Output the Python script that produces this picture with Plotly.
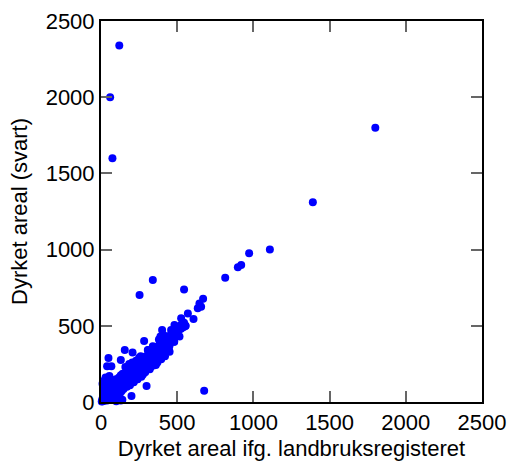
import plotly.graph_objects as go

# Dyrket areal ifg. landbruksregisteret (x) vs Dyrket areal (svart) (y)
x_reg = [5, 8, 10, 12, 15, 18, 20, 22, 25, 28, 30, 32, 35, 38, 40, 42, 45, 48, 50, 52,
         55, 58, 60, 62, 65, 68, 70, 72, 75, 78, 80, 82, 85, 88, 90, 92, 95, 98, 100, 102,
         105, 108, 110, 112, 115, 118, 120, 122, 125, 128, 130, 132, 135, 138, 140, 142, 145, 148, 150,
         10, 20, 30, 15, 25, 100, 130, 140,
         155, 160, 165, 170, 175, 180, 185, 190, 195, 200, 205, 210, 215, 220, 225, 230, 235, 240,
         245, 250, 255, 260, 265, 270, 275, 280, 285, 290, 295, 300, 305, 310, 315, 320, 325, 330,
         335, 340, 345, 350, 355, 360, 365, 370, 375, 380, 385, 390, 395, 400, 405, 410, 415, 420,
         425, 430, 435, 440, 445, 450, 455, 460, 465, 470, 475, 480, 485, 490, 495, 500, 505, 510,
         515, 520, 525, 530, 540, 545, 555,
         170, 190, 215, 240, 265, 290, 320, 345, 370, 395, 420, 450, 180, 230, 260, 310, 350, 380,
         205, 250, 275, 330, 360, 390, 430, 470, 235, 285, 340, 375, 410, 445, 160, 185,
         156, 207, 283, 360, 299, 200, 677, 480, 401, 438, 417, 482, 460, 554, 526, 570, 607,
         340, 253, 545, 635, 657, 646, 670, 815, 898, 920, 972, 1108, 1390, 1800,
         120, 60, 75, 49, 40, 68, 55, 130, 307, 417, 395]
y_svart = [3, 15, 5, 30, 10, 50, 20, 8, 35, 60, 15, 45, 25, 80, 10, 55, 35, 100, 20, 70,
           45, 120, 30, 85, 55, 140, 40, 95, 60, 110, 25, 75, 50, 130, 65, 100, 40, 150, 80, 115,
           55, 90, 140, 70, 105, 160, 85, 50, 120, 95, 175, 110, 70, 140, 100, 185, 125, 85, 155,
           120, 140, 160, 90, 110, 5, 10, 15,
           130, 175, 110, 150, 200, 140, 165, 120, 190, 160, 230, 180, 140, 200, 250, 175, 215, 190,
           260, 225, 170, 240, 205, 280, 235, 250, 200, 270, 300, 245, 280, 260, 320, 290, 230, 300,
           340, 280, 310, 330, 295, 350, 320, 300, 365, 340, 380, 350, 320, 370, 395, 360, 400, 380,
           340, 410, 390, 430, 400, 370, 420, 445, 410, 460, 430, 395, 470, 440, 480, 455, 490, 470,
           430, 500, 480, 510, 490, 520, 500,
           100, 110, 130, 150, 165, 195, 215, 240, 260, 280, 300, 330, 215, 270, 300, 340, 360, 410,
           260, 290, 180, 250, 280, 430, 370, 400, 150, 230, 365, 330, 440, 350, 230, 250,
           341, 324, 400, 243, 105, 39, 74, 396, 472, 428, 396, 505, 472, 499, 549, 580, 545,
           800, 702, 739, 615, 625, 647, 678, 815, 884, 899, 976, 1000, 1310, 1800,
           2340, 2000, 1600, 289, 234, 234, 170, 276, 341, 341, 396]

x_ticks = [0, 500, 1000, 1500, 2000, 2500]
y_ticks = [0, 500, 1000, 1500, 2000, 2500]

FONT = "Liberation Sans, Arial, sans-serif"

fig = go.Figure()
fig.add_trace(go.Scatter(
    x=x_reg, y=y_svart, mode="markers",
    marker=dict(color="#0000FF", size=8, line=dict(width=0)),
    cliponaxis=False,
))

axis_common = dict(
    range=[0, 2500], showgrid=False, zeroline=False, automargin=False,
    showline=True, linecolor="black", linewidth=2, mirror="ticks",
    ticks="inside", ticklen=11, tickwidth=2, tickcolor="#666666",
    tickfont=dict(family=FONT, size=22, color="black"),
    title_font=dict(family=FONT, size=22, color="black"),
)

fig.update_layout(
    width=508, height=461,
    margin=dict(l=101, r=26, t=21, b=59),
    paper_bgcolor="white", plot_bgcolor="white",
    showlegend=False,
    xaxis=dict(axis_common, tickvals=x_ticks, ticktext=[str(v) for v in x_ticks],
               title=dict(text="Dyrket areal ifg. landbruksregisteret", standoff=7)),
    yaxis=dict(axis_common, tickvals=y_ticks, ticktext=[str(v) for v in y_ticks],
               title=dict(text="Dyrket areal (svart)", standoff=12)),
)

fig.write_html("out.html")
